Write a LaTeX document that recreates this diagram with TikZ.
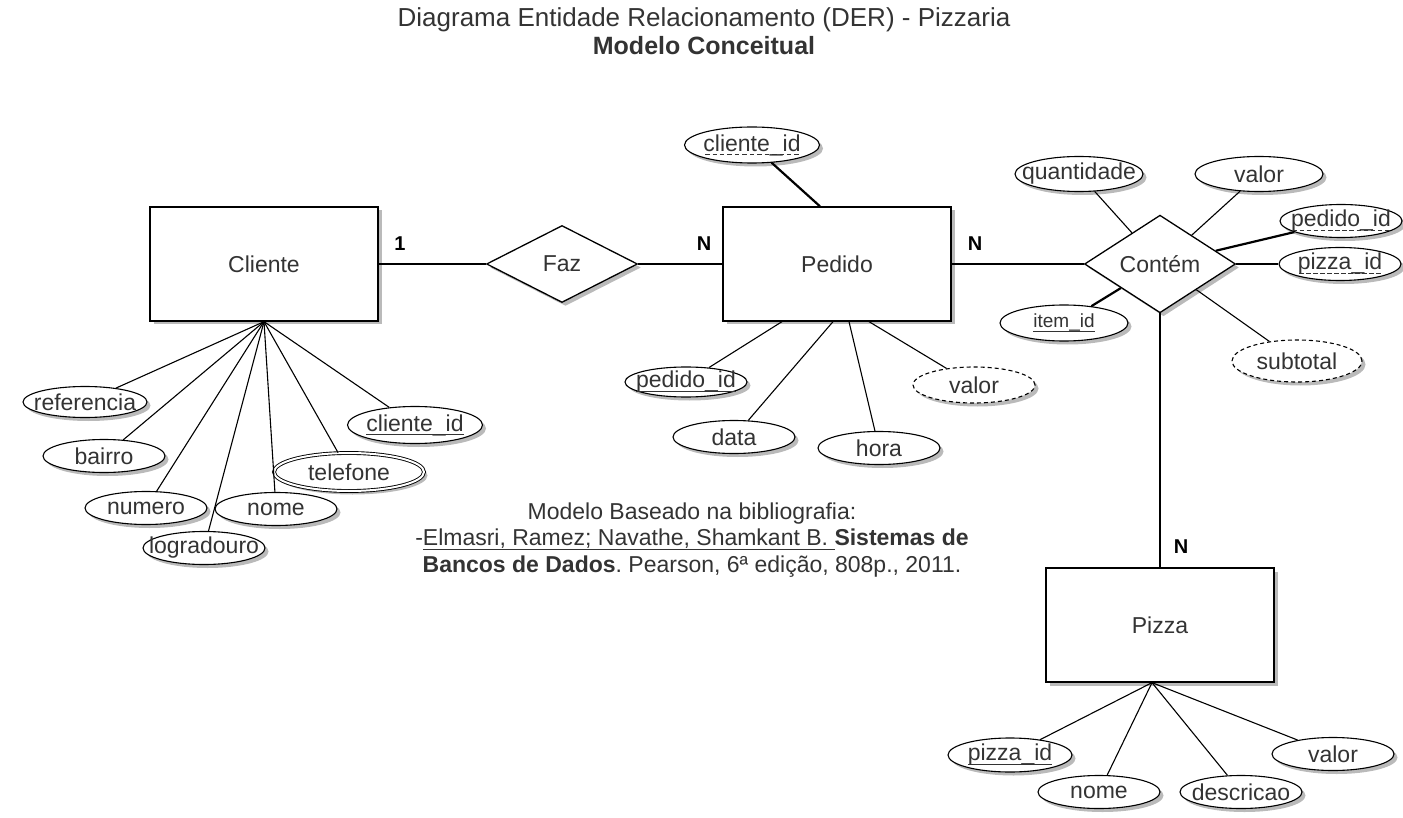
\documentclass[tikz,border=0pt]{standalone}
\usepackage{fontspec}
\setmainfont{Liberation Sans}
\usetikzlibrary{shapes.geometric,shadows}
\frenchspacing

% sublinhado simples e tracejado (sem alterar a altura do texto)
\newcommand{\ulpk}[1]{\leavevmode\setbox0=\hbox{#1}\rlap{\vrule height -3pt depth 4pt width \wd0}\box0\relax}
\newcommand{\ulfk}[1]{\leavevmode\setbox0=\hbox{#1}\rlap{\hbox to \wd0{\xleaders\hbox to 7pt{\hss\vrule height -3pt depth 4pt width 4.5pt\hss}\hfil}}\box0\relax}

\begin{document}
\begin{tikzpicture}[
  x=1pt, y=-1pt,
  text=black!80,
  shd/.style={drop shadow={shadow xshift=3.5pt, shadow yshift=-3.5pt, opacity=0.45, fill=black!60}},
  ent/.style={rectangle, draw, line width=1.3pt, fill=white, shd, minimum width=228pt, minimum height=114pt, font=\fontsize{23}{26}\selectfont},
  rel/.style={diamond, draw, line width=1.3pt, fill=white, shd, minimum width=151pt, minimum height=77pt, inner sep=0pt, font=\fontsize{23}{26}\selectfont},
  attr/.style={ellipse, draw, line width=1.1pt, fill=white, shd, minimum width=122pt, minimum height=33pt, inner xsep=-40pt, inner ysep=-4pt, font=\fontsize{23}{26}\selectfont},
  deriv/.style={attr, dash pattern=on 4pt off 3pt},
  multi/.style={attr, double, double distance=2pt, line width=0.9pt},
  card/.style={text=black, font=\bfseries\fontsize{20}{24}\selectfont},
  link/.style={line width=1.1pt},
  fk/.style={line width=2.2pt}
]
  \useasboundingbox (0,0) rectangle (1403,818);

  % Titulo
  \node[align=center, font=\fontsize{26}{28}\selectfont] (titulo) at (704,31)
    {Diagrama Entidade Relacionamento (DER) - Pizzaria\\\fontsize{25}{28}\selectfont\textbf{Modelo Conceitual}};

  % Entidades e relacionamentos
  \node[ent] (cliente) at (264,264) {Cliente};
  \node[rel] (faz) at (562,264) {Faz};
  \node[ent] (pedido) at (837,264) {Pedido};
  \node[rel] (contem) at (1160,264) {Contém};
  \node[ent] (pizza) at (1160,625) {Pizza};

  \draw[link] (cliente) -- (faz);
  \draw[link] (faz) -- (pedido);
  \draw[link] (pedido) -- (contem);
  \draw[link] (contem) -- (pizza);

  % Cardinalidades
  \node[card] (card1) at (400,244) {1};
  \node[card] (card2) at (704,244) {N};
  \node[card] (card3) at (975,244) {N};
  \node[card] (card4) at (1181,547) {N};

  % Atributos de Cliente
  \node[attr, minimum width=124pt, minimum height=31pt] (cRef) at (85,402) {referencia};
  \node[attr] (cBairro) at (104,456) {bairro};
  \node[attr] (cNumero) at (146,508) {numero};
  \node[attr] (cLogr) at (204,548) {logradouro};
  \node[attr] (cNome) at (276,509) {nome};
  \node[multi, minimum width=150pt, minimum height=38pt] (cFone) at (349,472) {telefone};
  \node[attr, minimum width=135pt, minimum height=37pt] (cId) at (415,425) {\ulpk{cliente\_id}};

  \foreach \a in {cRef, cBairro, cNumero, cLogr, cNome, cFone, cId}
    \draw[link] (cliente.south) -- (\a);

  % Atributos de Pedido
  \node[attr, minimum width=135pt, minimum height=36pt] (pCli) at (752,145) {\ulfk{cliente\_id}};
  \node[attr, minimum height=30pt] (pId) at (686,382) {\ulpk{pedido\_id}};
  \node[attr] (pData) at (734,437) {data};
  \node[attr] (pHora) at (879,448) {hora};
  \node[deriv, minimum height=36pt] (pValor) at (974,385) {valor};

  \draw[fk] (pCli) -- ([xshift=-17pt]pedido.north);
  \draw[link] ([xshift=-55pt]pedido.south) -- (pId);
  \draw[link] ([xshift=-4pt]pedido.south) -- (pData);
  \draw[link] ([xshift=12pt]pedido.south) -- (pHora);
  \draw[link] ([xshift=32pt]pedido.south) -- (pValor);

  % Atributos de Contem
  \node[attr, minimum width=128pt, minimum height=35pt] (rQtd) at (1079,174) {quantidade};
  \node[attr, minimum width=128pt, minimum height=35pt] (rValor) at (1259,174) {valor};
  \node[attr] (rPed) at (1341,221) {\ulfk{pedido\_id}};
  \node[attr] (rPiz) at (1340,264) {\ulfk{pizza\_id}};
  \node[attr, minimum width=128pt, minimum height=36pt, font=\fontsize{19}{22}\selectfont] (rItem) at (1064,323) {\ulpk{item\_id}};
  \node[deriv, minimum width=130pt, minimum height=42pt] (rSub) at (1297,361) {subtotal};

  \draw[link] (contem) -- (rQtd);
  \draw[link] (contem) -- (rValor);
  \draw[fk] (contem) -- (rPed);
  \draw[fk] (contem.east) -- (rPiz);
  \draw[fk] (contem) -- (rItem);
  \draw[link] (contem) -- (rSub);

  % Atributos de Pizza
  \node[attr, minimum width=124pt, minimum height=34pt] (zId) at (1010,755) {\ulpk{pizza\_id}};
  \node[attr] (zNome) at (1099,792) {nome};
  \node[attr] (zDesc) at (1241,792) {descricao};
  \node[attr] (zValor) at (1333,754) {valor};

  \foreach \a in {zId, zNome, zDesc, zValor}
    \draw[link] ([xshift=-8pt]pizza.south) -- (\a);

  % Bibliografia
  \node[align=center, font=\fontsize{23}{26.5}\selectfont] (biblio) at (692,540)
    {Modelo Baseado na bibliografia:\\
     -\ulpk{Elmasri, Ramez; Navathe, Shamkant B.\ }\textbf{Sistemas de}\\
     \textbf{Bancos de Dados}. Pearson, 6ª edição, 808p., 2011.};
\end{tikzpicture}
\end{document}
